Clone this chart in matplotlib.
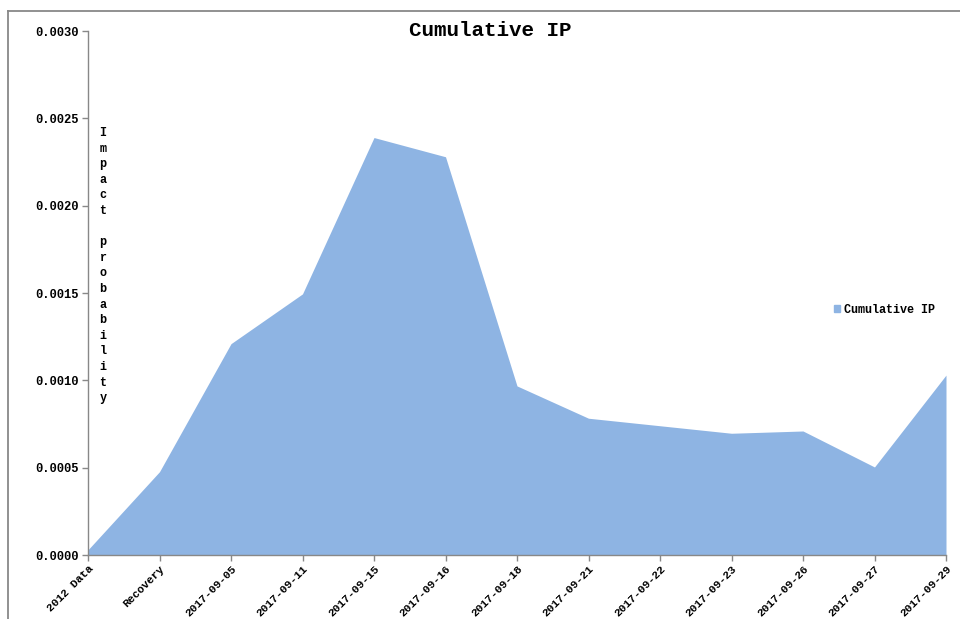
import numpy as np
import matplotlib
matplotlib.use("Agg")
import matplotlib.pyplot as plt
from matplotlib.lines import Line2D
from matplotlib.patches import Patch

categories = ["2012 Data", "Recovery", "2017-09-05", "2017-09-11", "2017-09-15",
              "2017-09-16", "2017-09-18", "2017-09-21", "2017-09-22", "2017-09-23",
              "2017-09-26", "2017-09-27", "2017-09-29"]
cum_ip = [0.00003, 0.000477, 0.00121, 0.001495, 0.00239, 0.00228, 0.000968,
          0.000783, 0.00074, 0.000697, 0.00071, 0.000504, 0.00103]
yticks = [0.0, 0.0005, 0.0010, 0.0015, 0.0020, 0.0025, 0.0030]

FONT = "Liberation Mono"
FILL = "#8EB4E3"
GRID = "#888888"

fig = plt.figure(figsize=(9.6, 6.19), dpi=100)
ax = fig.add_axes([88 / 960, 1 - 555 / 619, (946 - 88) / 960, (555 - 31) / 619])

x = np.arange(len(categories))
ax.fill_between(x, 0, cum_ip, color=FILL, lw=0, label="Cumulative IP")

ax.set_xlim(0, len(categories) - 1)
ax.set_ylim(0, 0.003)
ax.set_yticks(yticks)
ax.set_yticklabels([f"{v:.4f}" for v in yticks], fontfamily=FONT,
                   fontweight="bold", fontsize=8.7)
ax.set_xticks(x)
ax.set_xticklabels(categories, rotation=45, ha="right", rotation_mode="anchor",
                   fontfamily=FONT, fontweight="bold", fontsize=8.1)
ax.tick_params(axis="both", color=GRID, length=4, width=1, pad=3)
ax.tick_params(axis="x", pad=2)
for s in ("top", "right"):
    ax.spines[s].set_visible(False)
for s in ("left", "bottom"):
    ax.spines[s].set_color(GRID)
    ax.spines[s].set_linewidth(1)

# vertical stacked axis label
label = "Impact probability"
for i, ch in enumerate(label):
    if ch == " ":
        continue
    fig.text(103 / 960, 1 - (133 + i * 15.6) / 619, ch, ha="center", va="center",
             fontfamily=FONT, fontweight="bold", fontsize=8.5)

fig.text(490 / 960, 1 - 31 / 619, "Cumulative IP", ha="center", va="center",
         fontfamily=FONT, fontweight="bold", fontsize=15)

fig.legend(handles=[Patch(color=FILL, label="Cumulative IP")], loc="center left",
           bbox_to_anchor=(828 / 960, 1 - 310 / 619), frameon=False,
           prop={"family": FONT, "weight": "bold", "size": 8.5},
           handlelength=0.55, handleheight=0.55, handletextpad=0.3, borderpad=0)

# outer border
fig.add_artist(Line2D([7.5 / 960, 7.5 / 960], [0, 1 - 11 / 619], color=GRID, lw=1.3,
                      transform=fig.transFigure))
fig.add_artist(Line2D([7.5 / 960, 1], [1 - 11 / 619, 1 - 11 / 619], color=GRID, lw=1.3,
                      transform=fig.transFigure))

fig.savefig("out.png", dpi=100)
